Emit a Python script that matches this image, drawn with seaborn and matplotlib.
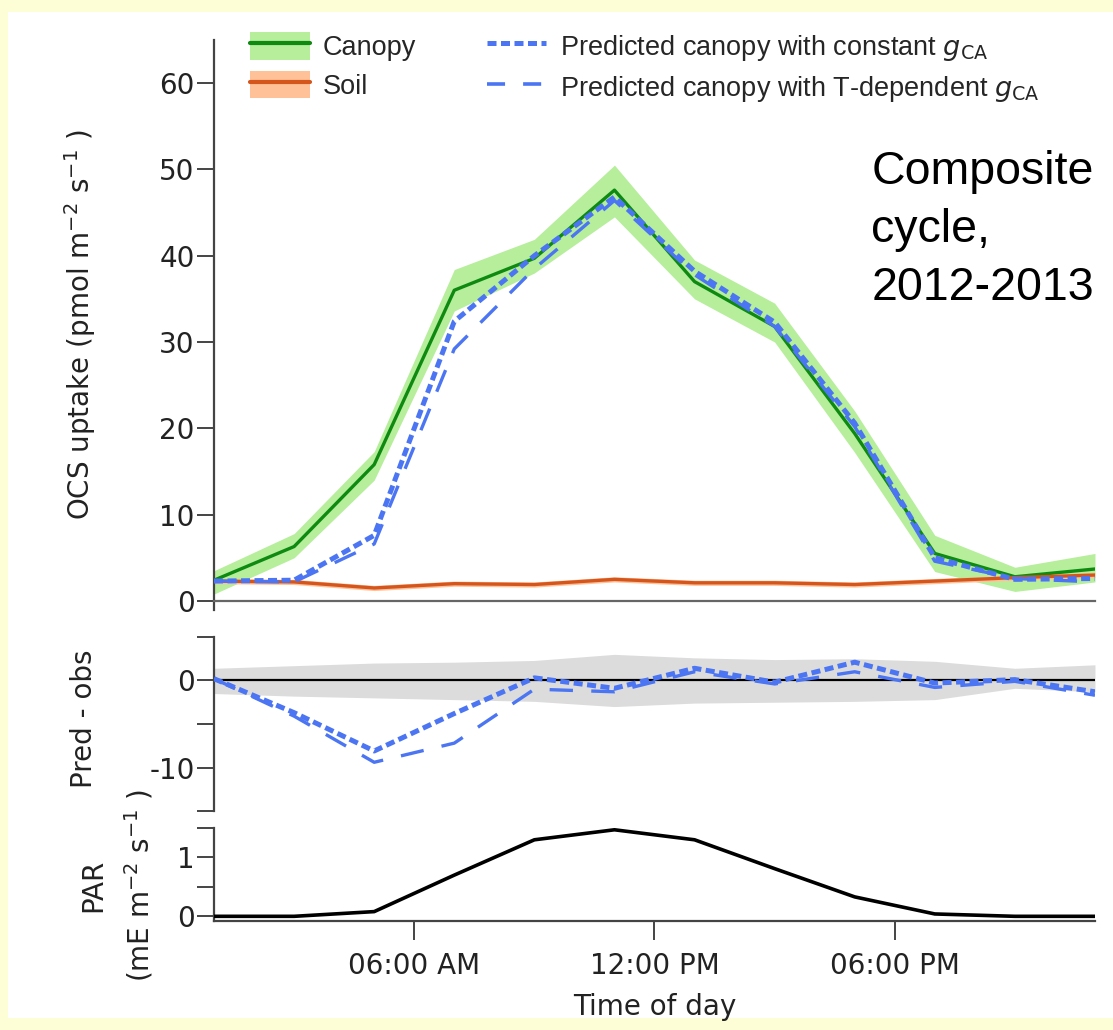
import matplotlib
matplotlib.use("Agg")
import matplotlib.pyplot as plt
from matplotlib.lines import Line2D
from matplotlib.patches import Patch, Rectangle
import numpy as np
import pandas as pd
import seaborn as sns

# hour of day (composite cycle, 2-hourly bins)
hours = [1, 3, 5, 7, 9, 11, 13, 15, 17, 19, 21, 23]

# observed canopy OCS uptake and its band
canopy = [2.4, 6.3, 15.8, 36.0, 39.7, 47.6, 37.0, 31.8, 19.4, 5.5, 2.8, 3.7]
canopy_lo = [0.8, 5.0, 14.0, 33.6, 38.0, 44.5, 35.0, 30.0, 17.2, 3.4, 1.1, 2.2]
canopy_hi = [3.5, 7.8, 17.3, 38.4, 41.9, 50.5, 39.5, 34.5, 22.0, 7.6, 3.9, 5.5]

# soil uptake
soil = [2.3, 2.2, 1.5, 2.0, 1.9, 2.5, 2.1, 2.1, 1.9, 2.3, 2.7, 3.0]
soil_lo = [2.0, 1.9, 1.2, 1.7, 1.6, 2.2, 1.8, 1.8, 1.6, 2.0, 2.4, 2.7]
soil_hi = [2.6, 2.5, 1.8, 2.3, 2.2, 2.8, 2.4, 2.4, 2.2, 2.6, 3.0, 3.3]

# predicted canopy uptake
pred_const = [2.3, 2.4, 7.6, 32.4, 40.0, 46.8, 38.2, 32.3, 20.6, 5.0, 2.5, 2.6]
pred_tdep = [2.3, 2.2, 6.6, 29.2, 38.5, 46.4, 37.8, 31.8, 20.2, 4.6, 2.6, 2.2]

# prediction minus observation
diff_const = [0.2, -3.7, -8.1, -3.8, 0.3, -0.9, 1.4, -0.2, 2.1, -0.3, 0.1, -1.3]
diff_tdep = [0.2, -4.1, -9.4, -7.2, -1.0, -1.3, 1.0, -0.4, 1.0, -0.8, -0.1, -1.7]
diff_band_lo = [-1.5, -1.8, -2.0, -2.2, -2.4, -3.0, -2.6, -2.5, -2.4, -2.2, -0.9, -1.3]
diff_band_hi = [1.4, 1.7, 2.0, 2.1, 2.3, 3.0, 2.6, 2.4, 2.5, 2.2, 1.4, 1.8]

# photosynthetically active radiation
par = [0.0, 0.0, 0.08, 0.70, 1.30, 1.47, 1.30, 0.81, 0.33, 0.04, 0.0, 0.0]

time_ticks = [6, 12, 18]
time_labels = ["06:00 AM", "12:00 PM", "06:00 PM"]

GREEN = "#0e8a10"
GREEN_BAND = "#b6ee9c"
ORANGE = "#d4561c"
ORANGE_BAND = "#ffc197"
BLUE = "#4b75f2"
GRAY_BAND = "#dcdcdc"
SPINE = "#444444"

sns.set_theme(style="white")
plt.rcParams["font.family"] = ["DejaVu Sans"]
plt.rcParams["mathtext.fontset"] = "dejavusans"

df = pd.DataFrame({
    "hour": hours, "canopy": canopy, "soil": soil,
    "pred_const": pred_const, "pred_tdep": pred_tdep,
    "diff_const": diff_const, "diff_tdep": diff_tdep, "par": par,
})

fig = plt.figure(figsize=(11.13, 10.30), dpi=100)
fig.patch.set_facecolor("#fefed6")
fig.patches.append(Rectangle((0.0072, 0.0117), 0.9928, 0.9767, transform=fig.transFigure,
                             facecolor="white", edgecolor="none", zorder=-10))

ax1 = fig.add_axes([0.1923, 0.4082, 0.7915, 0.5530])
ax2 = fig.add_axes([0.1923, 0.2126, 0.7915, 0.1690])
ax3 = fig.add_axes([0.1923, 0.1058, 0.7915, 0.0903])


def style_axis(ax, ylim, yticks, ylabels):
    ax.set_facecolor("none")
    ax.set_xlim(1, 23)
    ax.set_ylim(*ylim)
    for s in ["top", "right"]:
        ax.spines[s].set_visible(False)
    for s in ["left", "bottom"]:
        ax.spines[s].set_color(SPINE)
        ax.spines[s].set_linewidth(1.6)
    ax.set_yticks(yticks)
    ax.set_yticklabels(ylabels)
    ax.tick_params(axis="y", direction="out", length=12, width=1.4, color=SPINE,
                   labelsize=20, pad=2, left=True, labelcolor="#222222")
    ax.grid(False)


# --- top panel: OCS uptake
style_axis(ax1, (-1, 65), [0, 10, 20, 30, 40, 50, 60],
           ["0", "10", "20", "30", "40", "50", "60"])
ax1.spines["bottom"].set_position(("data", 0))
ax1.spines["bottom"].set_color("#666666")
ax1.tick_params(axis="x", bottom=False, labelbottom=False)

ax1.fill_between(hours, canopy_lo, canopy_hi, color=GREEN_BAND, lw=0, zorder=1)
ax1.fill_between(hours, soil_lo, soil_hi, color=ORANGE_BAND, lw=0, zorder=1)
sns.lineplot(data=df, x="hour", y="canopy", ax=ax1, color=GREEN, linewidth=2.4, zorder=3)
sns.lineplot(data=df, x="hour", y="soil", ax=ax1, color=ORANGE, linewidth=2.4, zorder=3)
sns.lineplot(data=df, x="hour", y="pred_tdep", ax=ax1, color=BLUE, linewidth=2.4,
             linestyle=(0, (7, 5.5)), zorder=4)
sns.lineplot(data=df, x="hour", y="pred_const", ax=ax1, color=BLUE, linewidth=3.6,
             linestyle=(0, (1.8, 0.9)), zorder=5)
ax1.set_xlabel("")
ax1.set_ylabel("OCS uptake (pmol m$^{-2}$ s$^{-1}$ )", fontsize=20, color="#222222")
ax1.yaxis.set_label_coords(-0.132, 0.5)

ax1.text(0.746, 0.806, "Composite\ncycle,\n2012-2013", transform=ax1.transAxes,
         family="Liberation Sans", fontsize=33.5, color="black", va="top", ha="left",
         linespacing=1.4)

handles = [
    (Patch(facecolor=GREEN_BAND, edgecolor="none"), Line2D([], [], color=GREEN, lw=3)),
    (Patch(facecolor=ORANGE_BAND, edgecolor="none"), Line2D([], [], color=ORANGE, lw=3)),
    Line2D([], [], color=BLUE, lw=3.6, linestyle=(0, (1.8, 0.9))),
    Line2D([], [], color=BLUE, lw=2.6, linestyle=(0, (5, 5))),
]
labels = ["Canopy", "Soil",
          r"Predicted canopy with constant $g_{\mathrm{CA}}$",
          r"Predicted canopy with T-dependent $g_{\mathrm{CA}}$"]
ax1.legend(handles, labels, loc="upper left", bbox_to_anchor=(0.2246, 0.969),
           bbox_transform=fig.transFigure, ncol=2, frameon=False,
           prop={"family": "Liberation Sans", "size": 19.5},
           handlelength=2.2, handleheight=1.2, handletextpad=0.5,
           labelspacing=0.36, columnspacing=2.6, borderpad=0, borderaxespad=0)

# --- middle panel: prediction - observation
style_axis(ax2, (-15, 5), [5, 0, -5, -10, -15], ["", "0", "", "-10", ""])
ax2.spines["bottom"].set_visible(False)
ax2.tick_params(axis="x", bottom=False, labelbottom=False)
ax2.fill_between(hours, diff_band_lo, diff_band_hi, color=GRAY_BAND, lw=0, zorder=1)
ax2.axhline(0, color="black", lw=1.6, zorder=2)
sns.lineplot(data=df, x="hour", y="diff_tdep", ax=ax2, color=BLUE, linewidth=2.4,
             linestyle=(0, (7, 5.5)), zorder=4)
sns.lineplot(data=df, x="hour", y="diff_const", ax=ax2, color=BLUE, linewidth=3.6,
             linestyle=(0, (1.8, 0.9)), zorder=5)
ax2.set_xlabel("")
ax2.set_ylabel("Pred - obs", fontsize=20, color="#222222")
ax2.yaxis.set_label_coords(-0.132, 0.53)

# --- bottom panel: PAR
style_axis(ax3, (-0.08, 1.5), [0, 0.5, 1, 1.5], ["0", "", "1", ""])
sns.lineplot(data=df, x="hour", y="par", ax=ax3, color="black", linewidth=2.6, zorder=3)
ax3.set_xticks(time_ticks)
ax3.set_xticklabels(time_labels)
ax3.tick_params(axis="x", direction="out", length=14, width=1.4, color=SPINE,
                labelsize=20, pad=8, bottom=True, labelcolor="#222222")
ax3.set_xlabel("Time of day", fontsize=20, color="#222222", labelpad=10)
ax3.set_ylabel("PAR\n(mE m$^{-2}$ s$^{-1}$ )", fontsize=20, color="#222222",
               linespacing=1.6)
ax3.yaxis.set_label_coords(-0.066, 0.38)

fig.savefig("out.png", dpi=100, facecolor=fig.get_facecolor())
